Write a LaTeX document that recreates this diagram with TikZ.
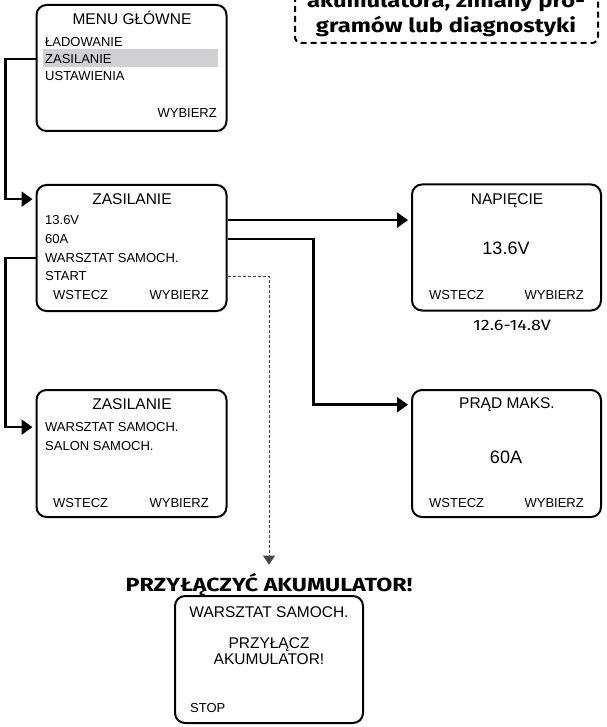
\documentclass[tikz,border=0pt]{standalone}
\usepackage{fontspec}
\setmainfont{Liberation Sans}
\newfontfamily\headfont{Fira Sans}
\newfontfamily\headwide{Fira Sans}[FakeStretch=1.22]
\newfontfamily\rangewide{Fira Sans}[FakeStretch=1.2]
\usetikzlibrary{arrows.meta}
\definecolor{hilite}{RGB}{208,208,210}
\definecolor{hintgray}{RGB}{70,70,70}
\tikzset{
  screen/.style={draw, line width=2pt, rounded corners=10pt,
    minimum width=190pt, minimum height=126pt, inner sep=0pt},
  screentitle/.style={font=\fontsize{15.5}{18}\selectfont, anchor=base, inner sep=0pt},
  screenitem/.style={font=\fontsize{13}{15}\selectfont, anchor=base west, inner sep=0pt},
  screenkey/.style={font=\fontsize{13}{15}\selectfont, inner sep=0pt},
  screenvalue/.style={font=\fontsize{18}{21}\selectfont, anchor=base, inner sep=0pt},
  notetext/.style={font=\headwide\bfseries\fontsize{19.5}{24}\selectfont, anchor=base, inner sep=0pt},
  link/.style={line width=2.4pt, -{Triangle[length=11pt,width=15pt]}, shorten >=3pt},
  hint/.style={draw=hintgray, line width=1pt, dash pattern=on 3pt off 2pt,
    -{Triangle[length=9pt,width=12pt]}, shorten >=8pt},
}

\begin{document}
\begin{tikzpicture}[x=1pt, y=-1pt]
    \useasboundingbox (0,0) rectangle (606,727);
    \clip (0,0) rectangle (606,727);

    % note at the top, cut by the page edge
    \draw[line width=2pt, dash pattern=on 6pt off 4pt, rounded corners=6pt]
      (295,-40) rectangle (598,43);
    \node[notetext] (note1) at (446,8) {akumulatora, zmiany pro-};
    \node[notetext] (note2) at (446,33) {gramów lub diagnostyki};

    % main menu
    \fill[hilite] (43,49) rectangle (218,67);
    \node[screen] (menu) at (131.5,68) {};
    \node[screentitle] (mtit) at (132,24.5) {MENU GŁÓWNE};
    \node[screenitem] (mload) at (45,46.6) {ŁADOWANIE};
    \node[screenitem] (mzas) at (45,63.6) {ZASILANIE};
    \node[screenitem] (mset) at (45,80.6) {USTAWIENIA};
    \node[screenkey, anchor=base east] (mok) at (217,117.6) {WYBIERZ};

    % power supply menu
    \node[screen] (zas) at (131.5,248) {};
    \node[screentitle] (ztit) at (132,204.5) {ZASILANIE};
    \node[screenitem] (zvolt) at (45,224.6) {13.6V};
    \node[screenitem] (zamp) at (45,243.6) {60A};
    \node[screenitem] (zshop) at (45,262.6) {WARSZTAT SAMOCH.};
    \node[screenitem] (zstart) at (45,280.6) {START};
    \node[screenkey, anchor=base west] (zback) at (53,299.6) {WSTECZ};
    \node[screenkey, anchor=base east] (zok) at (209,299.6) {WYBIERZ};

    % voltage
    \node[screen, minimum width=189pt] (napiecie) at (506.5,247.5) {};
    \node[screentitle] (ntit) at (507,204.5) {NAPIĘCIE};
    \node[screenvalue] (nval) at (506,254.4) {13.6V};
    \node[screenkey, anchor=base west] (nback) at (429,299.6) {WSTECZ};
    \node[screenkey, anchor=base east] (nok) at (584,299.6) {WYBIERZ};
    \node[font=\rangewide\fontsize{15}{18}\selectfont, anchor=base, inner sep=0pt]
      (nrange) at (512,330) {12.6-14.8V};

    % mode
    \node[screen, minimum height=127pt] (mode) at (131.5,453.5) {};
    \node[screentitle] (otit) at (132,409.5) {ZASILANIE};
    \node[screenitem] (oshop) at (45,431.6) {WARSZTAT SAMOCH.};
    \node[screenitem] (osalon) at (45,450.6) {SALON SAMOCH.};
    \node[screenkey, anchor=base west] (oback) at (53,507.6) {WSTECZ};
    \node[screenkey, anchor=base east] (ook) at (209,507.6) {WYBIERZ};

    % max current
    \node[screen, minimum width=189pt, minimum height=127pt] (prad) at (506.5,453.5) {};
    \node[screentitle] (ptit) at (507,408.5) {PRĄD MAKS.};
    \node[screenvalue] (pval) at (506,463.4) {60A};
    \node[screenkey, anchor=base west] (pback) at (429,507.6) {WSTECZ};
    \node[screenkey, anchor=base east] (pok) at (584,507.6) {WYBIERZ};

    % battery warning
    \node[font=\headwide\bfseries\fontsize{19}{22}\selectfont, anchor=base, inner sep=0pt]
      (alerthead) at (269,591) {PRZYŁĄCZYĆ AKUMULATOR!};
    \node[screen, minimum width=188pt, minimum height=127pt] (alert) at (269,659.5) {};
    \node[screentitle] (atit) at (269,617.5) {WARSZTAT SAMOCH.};
    \node[screentitle] (amsg1) at (269,648.5) {PRZYŁĄCZ};
    \node[screentitle] (amsg2) at (269,664.5) {AKUMULATOR!};
    \node[screenkey, anchor=base west] (astop) at (190,712.5) {STOP};

    % connectors
    \draw[link] (menu.west |- mzas) -- ++(-30,0) |- (zas.west |- ztit);
    \draw[link] (zas.east |- zvolt) -- (napiecie.west |- zvolt);
    \draw[link] (zas.east |- zamp) -- ++(86,0) |- (prad.west |- ptit);
    \draw[link] (zas.west |- zshop) -- ++(-30,0) |- (mode.west |- oshop);
    \draw[hint] (zas.east |- zstart) -| (alerthead.north);
\end{tikzpicture}
\end{document}
